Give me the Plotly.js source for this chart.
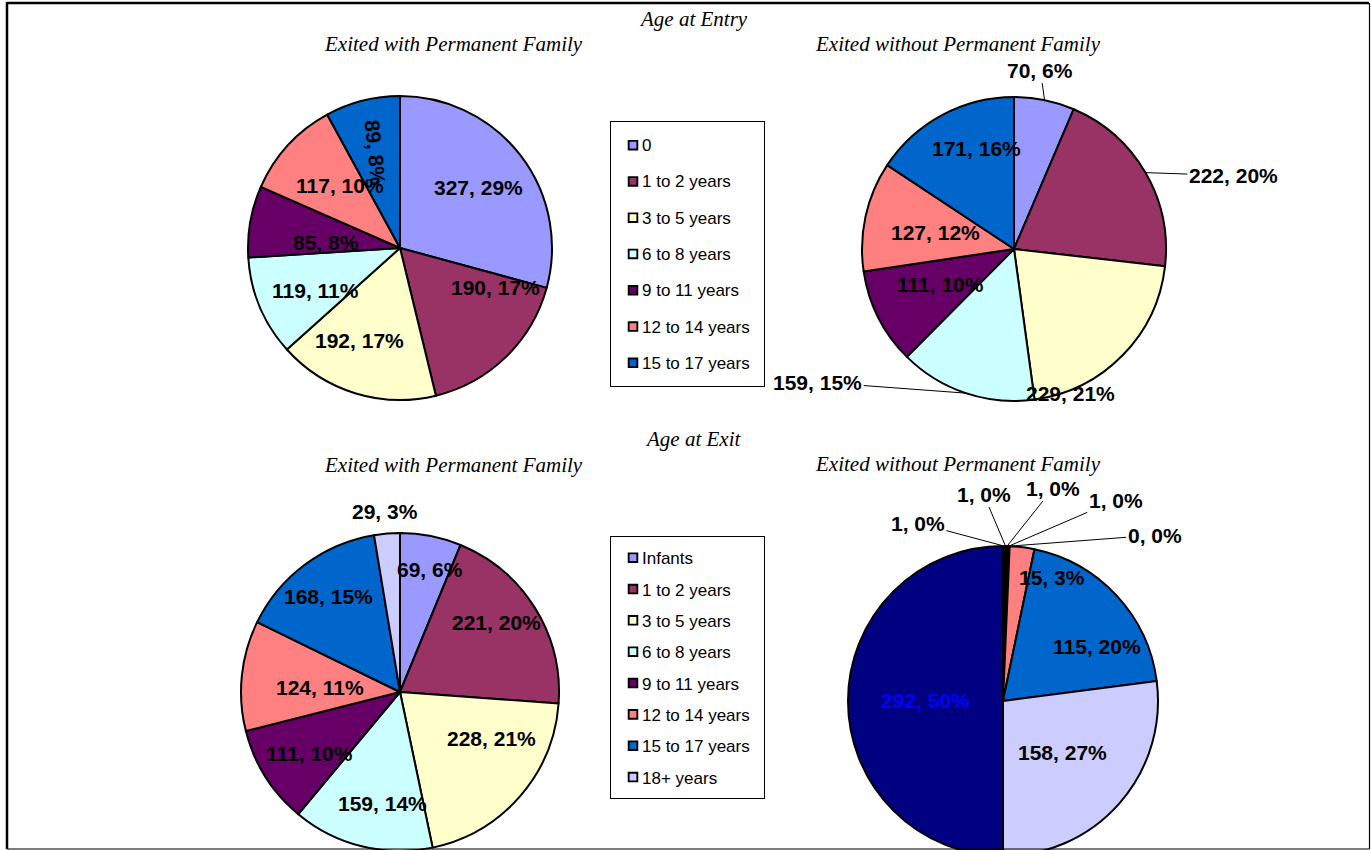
<!DOCTYPE html>
<html><head><meta charset="utf-8">
<script src="https://cdn.plot.ly/plotly-3.0.1.min.js"></script>
<style>
html,body{margin:0;padding:0;overflow:hidden;background:#fff}
#chart{width:1371px;height:900px}
</style>
</head><body><div id="chart"></div>
<script>
// ---- data ----
const entryCategories = ['0','1 to 2 years','3 to 5 years','6 to 8 years','9 to 11 years','12 to 14 years','15 to 17 years'];
const exitCategories = ['Infants','1 to 2 years','3 to 5 years','6 to 8 years','9 to 11 years','12 to 14 years','15 to 17 years','18+ years','Total'];
const entryWithFamily = [327,190,192,119,85,117,89];
const entryWithoutFamily = [70,222,229,159,111,127,171];
const exitWithFamily = [69,221,228,159,111,124,168,29];
const exitWithoutFamily = [1,1,1,1,0,15,115,158,292];
const sliceColors = ['#9999FF','#993366','#FFFFCC','#CCFFFF','#660066','#FF8080','#0066CC','#CCCCFF','#000080'];
const chartTitles = {entry:'Age at Entry', exit:'Age at Exit', withFam:'Exited with Permanent Family', withoutFam:'Exited without Permanent Family'};

// ---- layout geometry (px) ----
const W = 1371, H = 900;
const geo = {
  entryWith:    {cx:400,  cy:248, r:152},
  entryWithout: {cx:1014, cy:249, r:152},
  exitWith:     {cx:400,  cy:692, r:159},
  exitWithout:  {cx:1003, cy:701, r:155}
};
function domainOf(g){ return {x:[(g.cx-g.r)/W,(g.cx+g.r)/W], y:[1-(g.cy+g.r)/H, 1-(g.cy-g.r)/H]}; }
const FONT = 'Liberation Sans, Arial, sans-serif';
const SERIF = 'Liberation Serif, Times New Roman, serif';
const LABEL_SIZE = 21;

function legendLabels(cats, px, shift){
  return cats.map(c => '<span style="font-size:'+px+'px;baseline-shift:'+shift+'px">'+c+'</span>');
}
const entryLabels = legendLabels(entryCategories, 17, 4);
const exitLabels = legendLabels(exitCategories, 17, 2.5);

function pieTrace(values, labels, g, legendId, group, show){
  return {
    type:'pie', values:values, labels:labels.slice(0, values.length),
    domain: domainOf(g), sort:false, direction:'clockwise', rotation:0,
    marker:{colors: sliceColors.slice(0, values.length), line:{color:'#000', width:2}},
    textinfo:'none', hoverinfo:'skip',
    legend: legendId, legendgroup: group, showlegend: show
  };
}
const data = [
  pieTrace(entryWithFamily, entryLabels, geo.entryWith, 'legend', 'entry', true),
  pieTrace(entryWithoutFamily, entryLabels, geo.entryWithout, 'legend', 'entry', false),
  pieTrace(exitWithFamily, exitLabels, geo.exitWith, 'legend2', 'exit', true),
  pieTrace(exitWithoutFamily, exitLabels, geo.exitWithout, 'legend2', 'exit', false)
];

// ---- slice labels "value, percent" ----
function sum(a){ return a.reduce((s,v)=>s+v,0); }
function labelText(values, i){ return '<b>'+values[i]+', '+Math.round(values[i]/sum(values)*100)+'%</b>'; }
function slicePoint(g, values, i, k){
  const t = sum(values); let cum = 0;
  for(let j=0;j<i;j++) cum += values[j];
  const a = (cum + values[i]/2)/t*2*Math.PI;
  return [g.cx + k*g.r*Math.sin(a), g.cy - k*g.r*Math.cos(a)];
}
const K_IN = 0.65;
// inside labels: [slice index, nudge x, nudge y, text angle, colour]
const insideLabels = [
  {g:geo.entryWith, v:entryWithFamily, items:[[0,0,0],[1,27,-31],[2,-11,-2],[3,7,4],[4,23,12],[5,13,4],[6,0,0,84]]},
  {g:geo.entryWithout, v:entryWithoutFamily, items:[[4,15,-9],[5,18,5],[6,9,-13]]},
  {g:geo.exitWith, v:exitWithFamily, items:[[0,10,-21],[1,9,-15],[2,14,-22],[3,7,11],[4,-3,6],[5,23,6],[6,-10,-13]]},
  {g:geo.exitWithout, v:exitWithoutFamily, items:[[5,37,-24],[6,20,14],[7,-16,-15],[8,23,-1,0,'#0000FF']]}
];
// outside labels: offset of text centre from slice edge point, with or without leader line
const callouts = [
  {g:geo.entryWithout, v:entryWithoutFamily, i:0, dx:-4,  dy:-30, line:true},
  {g:geo.entryWithout, v:entryWithoutFamily, i:1, dx:88,  dy:3,   line:true},
  {g:geo.entryWithout, v:entryWithoutFamily, i:2, dx:-52, dy:38,  line:false},
  {g:geo.entryWithout, v:entryWithoutFamily, i:3, dx:-148,dy:-11, line:true},
  {g:geo.exitWith,     v:exitWithFamily,     i:7, dx:-2,  dy:-22, line:false},
  {g:geo.exitWithout,  v:exitWithoutFamily,  i:0, dx:-86, dy:-23, line:true},
  {g:geo.exitWithout,  v:exitWithoutFamily,  i:1, dx:-22, dy:-52, line:true},
  {g:geo.exitWithout,  v:exitWithoutFamily,  i:2, dx:46,  dy:-58, line:true},
  {g:geo.exitWithout,  v:exitWithoutFamily,  i:3, dx:107, dy:-46, line:true},
  {g:geo.exitWithout,  v:exitWithoutFamily,  i:4, dx:145, dy:-11, line:true}
];
const annotations = [];
insideLabels.forEach(set => set.items.forEach(it => {
  const p = slicePoint(set.g, set.v, it[0], K_IN);
  annotations.push({xref:'paper', yref:'paper', x:(p[0]+it[1])/W, y:1-(p[1]+it[2])/H,
    xanchor:'center', yanchor:'middle', showarrow:false, textangle: it[3] || 0,
    text:labelText(set.v, it[0]), font:{family:FONT, size:LABEL_SIZE, color: it[4] || '#000'}});
}));
callouts.forEach(c => {
  const p = slicePoint(c.g, c.v, c.i, 1);
  const a = {xref:'paper', yref:'paper', text:labelText(c.v, c.i), xanchor:'center', yanchor:'middle',
    font:{family:FONT, size:LABEL_SIZE, color:'#000'}};
  if(c.line){ Object.assign(a, {x:p[0]/W, y:1-p[1]/H, showarrow:true, arrowhead:0, arrowwidth:1, arrowcolor:'#000', standoff:0, ax:c.dx, ay:c.dy}); }
  else { Object.assign(a, {x:(p[0]+c.dx)/W, y:1-(p[1]+c.dy)/H, showarrow:false}); }
  annotations.push(a);
});
function titleAnn(text, x, y){
  return {xref:'paper', yref:'paper', x:x/W, y:1-y/H, xanchor:'center', yanchor:'middle', showarrow:false,
    text:'<i>'+text+'</i>', font:{family:SERIF, size:21, color:'#000'}};
}
annotations.push(
  titleAnn(chartTitles.entry, 693, 19),
  titleAnn(chartTitles.withFam, 453, 44),
  titleAnn(chartTitles.withoutFam, 958, 44),
  titleAnn(chartTitles.exit, 693, 439),
  titleAnn(chartTitles.withFam, 453, 465),
  titleAnn(chartTitles.withoutFam, 958, 464)
);

function pLine(x0,y0,x1,y1,w){ return {type:'line', xref:'paper', yref:'paper', x0:x0/W, y0:1-y0/H, x1:x1/W, y1:1-y1/H, line:{color:'#000', width:w}}; }
const shapes = [pLine(7,3,1369,3,2.5), pLine(7,2,7,849,2.5), pLine(1369.5,3,1369.5,849,1.2), pLine(7,849,1369.5,849,1.2)];

const legendBase = {xanchor:'left', yanchor:'top', bgcolor:'#fff', bordercolor:'#000', borderwidth:1, traceorder:'normal'};
const layout = {
  width:W, height:H, margin:{l:0,r:0,t:0,b:0}, paper_bgcolor:'#fff',
  showlegend:true,
  legend: Object.assign({}, legendBase, {x:610/W, y:1-121/H, font:{family:FONT, size:25.6, color:'#000'}}),
  legend2: Object.assign({}, legendBase, {x:610/W, y:1-536/H, font:{family:FONT, size:21.8, color:'#000'}}),
  annotations: annotations,
  shapes: shapes
};
// compact legend swatches like the original (smaller square, heavier outline, text closer)
function tidyLegends(){
  document.querySelectorAll('#chart .infolayer g.traces path.legendpie').forEach(el => {
    if(el.getAttribute('transform') !== 'translate(22,0) scale(0.72)') el.setAttribute('transform', 'translate(22,0) scale(0.72)');
    el.style.strokeWidth = '2.6px';
  });
  document.querySelectorAll('#chart .infolayer g.traces > text').forEach(el => {
    if(el.getAttribute('transform') !== 'translate(-9,0)') el.setAttribute('transform', 'translate(-9,0)');
  });
}
const chartDiv = document.getElementById('chart');
new MutationObserver(tidyLegends).observe(chartDiv, {childList:true, subtree:true});
Plotly.newPlot(chartDiv, data, layout, {displayModeBar:false, staticPlot:true}).then(() => {
  tidyLegends();
  [30, 150, 400, 900].forEach(t => setTimeout(tidyLegends, t));
});
</script>
</body></html>
